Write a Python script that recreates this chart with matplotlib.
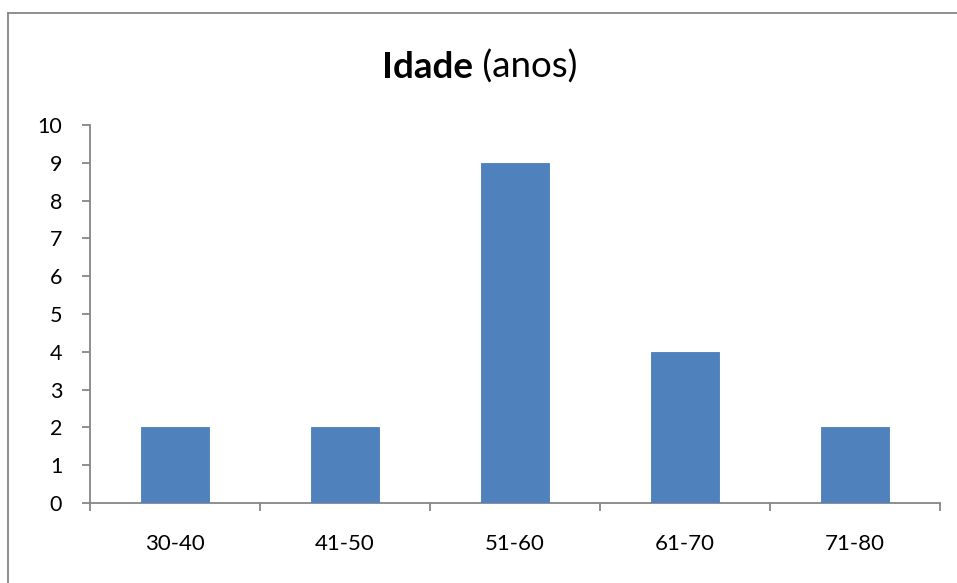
import matplotlib
matplotlib.use("Agg")
import matplotlib.pyplot as plt
from matplotlib.lines import Line2D

categories = ["30-40", "41-50", "51-60", "61-70", "71-80"]
values = [2, 2, 9, 4, 2]
yticks = list(range(0, 11))

plt.rcParams['font.family'] = ['Lato', 'DejaVu Sans']

W, H = 957, 583
fig = plt.figure(figsize=(W / 100, H / 100), dpi=100)
ax = fig.add_axes([90 / W, 1 - 503 / H, (940 - 90) / W, (503 - 125) / H])

x = list(range(len(categories)))
ax.bar(x, values, width=0.4, color="#4F81BD", edgecolor="#4A7EBB", linewidth=0.6, zorder=3)

ax.set_xlim(-0.5, len(categories) - 0.5)
ax.set_ylim(0, 10)
ax.set_yticks(yticks)
ax.set_yticklabels([str(v) for v in yticks], fontsize=15.5)
ax.set_xticks(x)
ax.set_xticklabels(categories, fontsize=16)
ax.set_xticks([i - 0.5 for i in range(len(categories) + 1)], minor=True)

gray = "#868686"
for s in ["top", "right"]:
    ax.spines[s].set_visible(False)
for s in ["left", "bottom"]:
    ax.spines[s].set_color(gray)
    ax.spines[s].set_linewidth(1.3)
ax.tick_params(axis="y", which="major", direction="out", length=6, width=1.3, color=gray, pad=14)
ax.tick_params(axis="x", which="major", length=0, pad=22)
ax.tick_params(axis="x", which="minor", direction="out", length=6, width=1.3, color=gray)

# Title with bold + regular parts
fig.canvas.draw()
r = fig.canvas.get_renderer()
ty = 1 - 78 / H
t1 = fig.text(0, ty, "Idade", fontsize=26.5, fontweight="bold", va="baseline", ha="left")
t2 = fig.text(0, ty, " (anos)", fontsize=26.5, va="baseline", ha="left")
w1 = t1.get_window_extent(r).width
w2 = t2.get_window_extent(r).width
cx = 480
start = cx - (w1 + w2) / 2
t1.set_x(start / W)
t2.set_x((start + w1) / W)

# chart border
fig.add_artist(Line2D([8 / W, 1], [1 - 13 / H, 1 - 13 / H], color=gray, lw=1.3, transform=fig.transFigure))
fig.add_artist(Line2D([8 / W, 8 / W], [0, 1 - 13 / H], color=gray, lw=1.3, transform=fig.transFigure))

fig.savefig("out.png", dpi=100)
